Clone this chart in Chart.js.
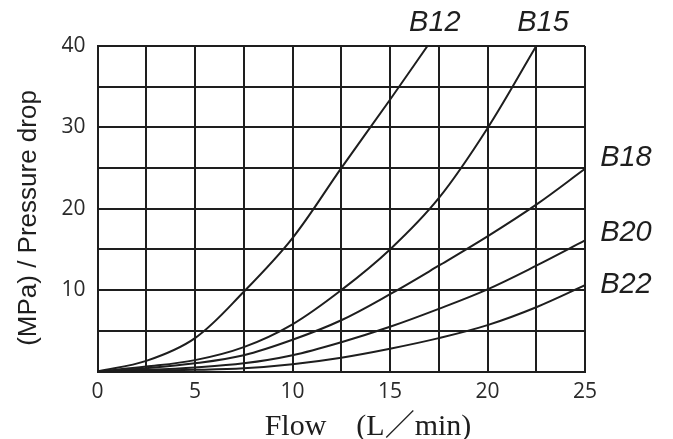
<!DOCTYPE html>
<html>
<head>
<meta charset="utf-8">
<script src="https://cdn.jsdelivr.net/npm/chart.js@4.4.0/dist/chart.umd.min.js"></script>
<style>
  html, body { margin: 0; padding: 0; background: #fff; }
  #wrap { width: 673px; height: 439px; }
</style>
</head>
<body>
<div id="wrap"><canvas id="flowChart"></canvas></div>
<script>
// Flow (L/min) vs pressure drop (MPa)
const flow = [0, 2.5, 5, 7.5, 10, 12.5, 15, 17.5, 20, 22.5, 25];
const b12 = [0, 1.3, 4.1, 9.8, 16.4, 25.0, 33.4, 42.0, null, null, null];
const b15 = [0, 0.6, 1.4, 3.0, 5.8, 10.0, 15.0, 21.3, 29.9, 40.0, null];
const b18 = [0, 0.4, 1.0, 2.0, 3.9, 6.3, 9.5, 13.0, 16.6, 20.5, 24.9];
const b20 = [0, 0.2, 0.5, 1.0, 2.0, 3.6, 5.5, 7.7, 10.1, 13.0, 16.1];
const b22 = [0, 0.1, 0.2, 0.4, 0.9, 1.7, 2.8, 4.1, 5.7, 7.9, 10.6];
const seriesNames = ['B12', 'B15', 'B18', 'B20', 'B22'];

// where each curve name sits, in data units
const nameSpots = [[17.3, 42.8], [22.85, 42.8], [27.1, 26.3], [27.1, 17.0], [27.1, 10.6]];

const ink = '#1e1e1e';

function toPoints(values) {
    return flow.map((x, i) => ({ x: x, y: values[i] }));
}

const curveLabels = {
    id: 'curveLabels',
    afterDraw(chart) {
        const c = chart.ctx;
        const xs = chart.scales.x;
        const ys = chart.scales.y;
        c.save();
        c.fillStyle = ink;
        c.font = 'italic 29px "Liberation Sans", Arial, sans-serif';
        c.textAlign = 'center';
        c.textBaseline = 'middle';
        seriesNames.forEach((name, i) => {
            c.fillText(name, xs.getPixelForValue(nameSpots[i][0]), ys.getPixelForValue(nameSpots[i][1]));
        });

        // axis titles
        c.textBaseline = 'alphabetic';
        c.font = '30px "Liberation Serif", "Times New Roman", "Noto Sans CJK SC", serif';
        c.fillText('Flow\u3000(L\uff0fmin)', 368, 435);

        c.textBaseline = 'middle';
        c.font = '26px "Liberation Sans", Arial, sans-serif';
        c.translate(29, 218);
        c.rotate(-Math.PI / 2);
        c.fillText('(MPa) / Pressure drop', 0, 0);
        c.restore();
    }
};

const ctx = document.getElementById('flowChart').getContext('2d');
const flowChart = new Chart(ctx, {
    type: 'line',
    data: {
        datasets: [b12, b15, b18, b20, b22].map((vals, i) => ({
            label: seriesNames[i],
            data: toPoints(vals),
            borderColor: ink,
            borderWidth: 2,
            pointRadius: 0,
            fill: false,
            tension: 0.35,
            spanGaps: false
        }))
    },
    options: {
        responsive: true,
        maintainAspectRatio: false,
        animation: false,
        layout: { padding: { left: 0, top: 46, right: 88, bottom: 0 } },
        plugins: {
            legend: { display: false },
            tooltip: { enabled: false }
        },
        scales: {
            x: {
                type: 'linear',
                min: 0,
                max: 25,
                afterFit(scale) { scale.height = 67.5; },
                ticks: {
                    stepSize: 2.5,
                    color: '#2a2a2a',
                    padding: 8,
                    maxRotation: 0,
                    font: { family: '"Open Sans", sans-serif', size: 21 },
                    callback: v => (v % 5 === 0 ? v : '')
                },
                grid: { color: ink, lineWidth: 2, drawTicks: false },
                border: { color: ink, width: 2 }
            },
            y: {
                min: 0,
                max: 40,
                afterFit(scale) { scale.width = 97.5; },
                ticks: {
                    stepSize: 5,
                    color: '#2a2a2a',
                    padding: 12,
                    font: { family: '"Open Sans", sans-serif', size: 21 },
                    callback: v => (v % 10 === 0 && v !== 0 ? v : '')
                },
                grid: { color: ink, lineWidth: 2, drawTicks: false },
                border: { color: ink, width: 2 }
            }
        }
    },
    plugins: [curveLabels]
});
</script>
</body>
</html>
